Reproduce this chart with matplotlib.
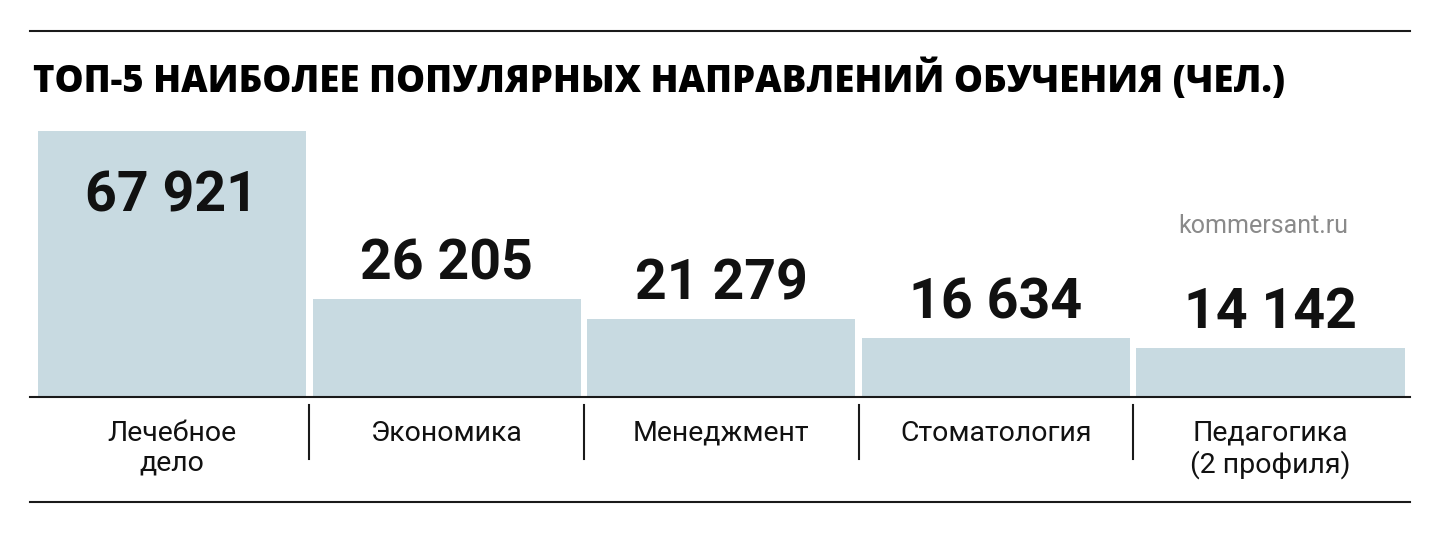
import matplotlib
matplotlib.use("Agg")
import matplotlib.pyplot as plt
from matplotlib.lines import Line2D

# data
categories = ["Лечебное\nдело", "Экономика", "Менеджмент", "Стоматология", "Педагогика\n(2 профиля)"]
values = [67921, 26205, 21279, 16634, 14142]
value_labels = ["67 921", "26 205", "21 279", "16 634", "14 142"]
title = "ТОП-5 НАИБОЛЕЕ ПОПУЛЯРНЫХ НАПРАВЛЕНИЙ ОБУЧЕНИЯ (ЧЕЛ.)"
source = "kommersant.ru"

narrow = ["Roboto", "DejaVu Sans"]
bar_color = "#c8dae1"
line_color = "#1a1a1a"

W, H = 1440, 533
my_dpi = 100
fig = plt.figure(figsize=(W / my_dpi, H / my_dpi), dpi=my_dpi)

# axes placed in pixel terms: bottom at baseline (y=397), top at tallest bar (y=131)
ax = fig.add_axes([30 / W, 1 - 397 / H, 1380 / W, (397 - 131) / H])
x = list(range(len(values)))
ax.bar(x, values, width=0.976, color=bar_color, linewidth=0)
ax.set_xlim(-0.517, 4.508)
ax.set_ylim(1876, max(values))

for s in ["top", "left", "right"]:
    ax.spines[s].set_visible(False)
ax.spines["bottom"].set_color(line_color)
ax.spines["bottom"].set_linewidth(1.5)
ax.set_xticks([])
ax.set_yticks([])

# value labels: first one sits inside the bar, the rest above
for i, (v, lab) in enumerate(zip(values, value_labels)):
    if i == 0:
        off = -58
    else:
        off = 14
    ax.annotate(lab, (i, v), xytext=(0, off), textcoords="offset points",
                ha="center", va="baseline", fontsize=40, fontweight="bold",
                family=narrow, color="#111111")

# category labels and separators
tr = ax.get_xaxis_transform()
for i, c in enumerate(categories):
    ax.text(i, -0.085, c, transform=tr, ha="center", va="top", fontsize=20.5,
            family=narrow, color="#111111", linespacing=1.15)
for i in range(len(categories) - 1):
    ax.plot([i + 0.5, i + 0.5], [-0.030, -0.233], transform=tr, color=line_color,
            linewidth=1.5, clip_on=False)

# top and bottom rules
fig.add_artist(Line2D([30 / W, 1410 / W], [1 - 31 / H, 1 - 31 / H], color=line_color, linewidth=1.5))
fig.add_artist(Line2D([30 / W, 1410 / W], [1 - 502 / H, 1 - 502 / H], color=line_color, linewidth=1.5))

# title
fig.text(33 / W, 1 - 92 / H, title, ha="left", va="baseline", fontsize=26.3,
         fontweight=800, family=["Open Sans", "Liberation Sans", "DejaVu Sans"], color="#000000")

# source
fig.text(1263 / W, 1 - 233 / H, source, ha="center", va="baseline", fontsize=18,
         family=narrow, color="#8a8a8a")

plt.savefig("out.png", dpi=my_dpi)
